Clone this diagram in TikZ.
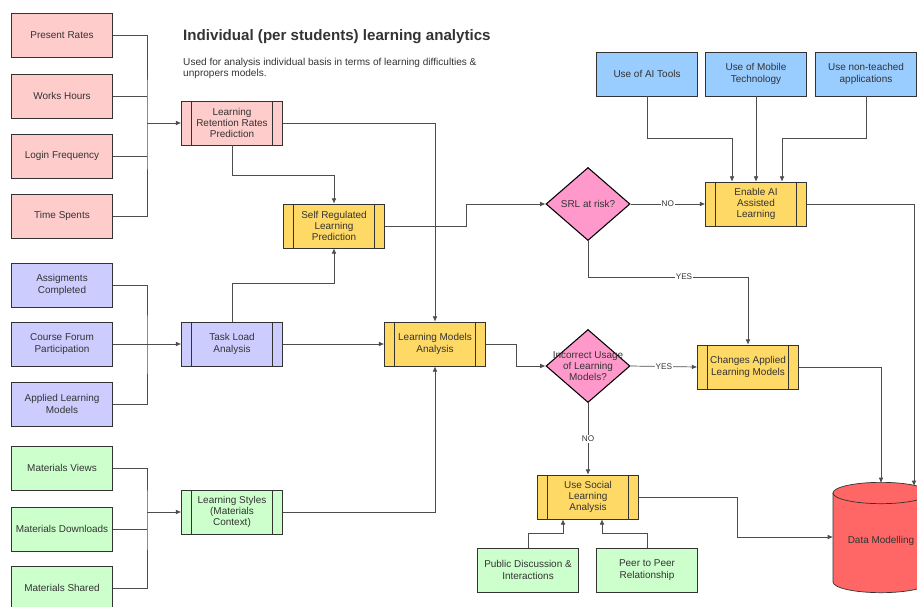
\documentclass[tikz,border=0pt]{standalone}
\usepackage{fontspec}
\setmainfont{Liberation Sans}
\usetikzlibrary{shapes.geometric,arrows.meta}

\definecolor{txt}{HTML}{333333}
\definecolor{boxline}{HTML}{333333}
\definecolor{linegray}{HTML}{4D4D4D}
\definecolor{rosebox}{HTML}{FFCCCC}
\definecolor{lilacbox}{HTML}{CCCCFF}
\definecolor{mintbox}{HTML}{CCFFCC}
\definecolor{skybox}{HTML}{99CCFF}
\definecolor{goldbox}{HTML}{FFD966}
\definecolor{decpink}{HTML}{FF99CC}
\definecolor{dbred}{HTML}{FF6666}

\tikzset{
  box/.style={draw=boxline,line width=0.6pt,minimum width=3.03cm,minimum height=1.32cm,
    align=center,inner sep=1pt,text=txt,font=\fontsize{8.5}{9.6}\selectfont},
  proc/.style={box,path picture={
    \draw[boxline,line width=0.6pt]
      ([xshift=0.3cm]path picture bounding box.north west) -- ([xshift=0.3cm]path picture bounding box.south west)
      ([xshift=-0.3cm]path picture bounding box.north east) -- ([xshift=-0.3cm]path picture bounding box.south east);}},
  decision/.style={diamond,draw=black,line width=0.9pt,fill=decpink,minimum width=2.52cm,
    minimum height=2.19cm,inner sep=0pt},
  dtext/.style={align=center,text=txt,font=\fontsize{8.5}{9.6}\selectfont},
  link/.style={draw=linegray,line width=0.6pt},
  arr/.style={link,-{Latex[length=4.5pt,width=4pt]}},
  lbl/.style={fill=white,inner sep=0.8pt,text=txt,font=\fontsize{7}{8}\selectfont},
}

\begin{document}
\begin{tikzpicture}[x=0.03cm,y=-0.03cm]
\useasboundingbox (0,0) rectangle (917,606);
\node[anchor=west,text=txt,font=\fontsize{12.9}{14}\selectfont\bfseries,inner sep=0pt] (title) at (183,37) {Individual (per students) learning analytics};
\node[anchor=north west,align=left,text=txt,font=\fontsize{8.6}{9.4}\selectfont,inner sep=0pt] (sub) at (183,58) {Used for analysis individual basis in terms of learning difficulties \&\\unpropers models.};

\node[box,fill=rosebox] (pr) at (62,35) {Present Rates};
\node[box,fill=rosebox] (wh) at (62,96) {Works Hours};
\node[box,fill=rosebox] (lf) at (62,156) {Login Frequency};
\node[box,fill=rosebox] (ts) at (62,216) {Time Spents};
\node[box,fill=lilacbox] (ac) at (62,285) {Assigments\\Completed};
\node[box,fill=lilacbox] (cf) at (62,344) {Course Forum\\Participation};
\node[box,fill=lilacbox] (alm) at (62,404) {Applied Learning\\Models};
\node[box,fill=mintbox] (mv) at (62,468) {Materials Views};
\node[box,fill=mintbox] (md) at (62,529) {Materials Downloads};
\node[box,fill=mintbox] (ms) at (62,588) {Materials Shared};

\node[proc,fill=rosebox] (lrrp) at (232,123) {Learning\\Retention Rates\\Prediction};
\node[proc,fill=goldbox] (srlp) at (334,226) {Self Regulated\\Learning\\Prediction};
\node[proc,fill=lilacbox] (tla) at (232,344) {Task Load\\Analysis};
\node[proc,fill=goldbox] (lma) at (435,344) {Learning Models\\Analysis};
\node[proc,fill=mintbox] (lsmc) at (232,512) {Learning Styles\\(Materials\\Context)};

\node[decision,label={[dtext]center:SRL at risk?}] (srl) at (588,204) {};
\node[decision,label={[dtext]center:Incorrect Usage\\of Learning\\Models?}] (icu) at (588,366) {};

\node[box,fill=skybox] (ait) at (647,74) {Use of AI Tools};
\node[box,fill=skybox] (mob) at (756,74) {Use of Mobile\\Technology};
\node[box,fill=skybox] (nta) at (866,74) {Use non-teached\\applications};
\node[proc,fill=goldbox] (eaal) at (756,204) {Enable AI\\Assisted\\Learning};
\node[proc,fill=goldbox] (calm) at (748,367) {Changes Applied\\Learning Models};
\node[proc,fill=goldbox] (usla) at (588,497) {Use Social\\Learning\\Analysis};
\node[box,fill=mintbox] (pdi) at (528,570) {Public Discussion \&\\Interactions};
\node[box,fill=mintbox] (ppr) at (647,570) {Peer to Peer\\Relationship};

\draw[boxline,line width=0.6pt,fill=dbred] (833,493) -- (833,582)
  arc[start angle=180,end angle=360,x radius=1.44cm,y radius=0.32cm] -- (929,493)
  arc[start angle=0,end angle=180,x radius=1.44cm,y radius=0.32cm] -- cycle;
\draw[boxline,line width=0.6pt] (833,493) arc[start angle=180,end angle=360,x radius=1.44cm,y radius=0.32cm];
\node[text=txt,font=\fontsize{8.5}{9.6}\selectfont] (dm) at (881,541) {Data Modelling};
\coordinate (dmtop) at (881,483);
\coordinate (dmrt) at (914,486);
\coordinate (dmlf) at (833,537);

\coordinate (b1) at (147,123);
\coordinate (b2) at (147,344);
\coordinate (b3) at (147,512);
\draw[link] (pr.east) -| (b1) |- (ts.east);
\draw[link] (wh.east) -- (wh.east -| b1);
\draw[link] (lf.east) -- (lf.east -| b1);
\draw[arr] (b1) -- (lrrp.west);
\draw[link] (ac.east) -| (b2) |- (alm.east);
\draw[arr] (cf.east) -- (tla.west);
\draw[link] (mv.east) -| (b3) |- (ms.east);
\draw[link] (md.east) -- (md.east -| b3);
\draw[arr] (b3) -- (lsmc.west);

\draw[arr] (lrrp.south) -- ++(0,30) -| (srlp.north);
\draw[arr] (lrrp.east) -| (lma.north);
\draw[arr] (tla.north) -- ++(0,-38) -| (srlp.south);
\draw[arr] (tla.east) -- (lma.west);
\draw[arr] (lsmc.east) -| (lma.south);
\draw[arr] (srlp.east) -- ++(81,0) |- (srl.west);
\draw[arr] (lma.east) -- ++(30,0) |- (icu.west);

\draw[arr] (srl.east) -- node[lbl] {NO} (eaal.west);
\draw[arr] (srl.south) -- ++(0,36) coordinate (s1) -- node[lbl,pos=0.6] {YES} (s1 -| calm.north) -- (calm.north);
\draw[arr] (icu.east) -- node[lbl] {YES} (calm.west);
\draw[arr] (icu.south) -- node[lbl] {NO} (usla.north);

\draw[arr] (ait.south) -- ++(0,42) -| ([xshift=-0.72cm]eaal.north);
\draw[arr] (mob.south) -- (eaal.north);
\draw[arr] (nta.south) -- ++(0,42) -| ([xshift=0.78cm]eaal.north);

\draw[arr] (eaal.east) -| (dmrt);
\draw[arr] (calm.east) -| (dmtop);
\draw[arr] (usla.east) -- ++(98,0) |- (dmlf);

\draw[arr] (pdi.north) -- ++(0,-14) -| ([xshift=-0.75cm]usla.south);
\draw[arr] (ppr.north) -- ++(0,-14) -| ([xshift=0.42cm]usla.south);
\end{tikzpicture}
\end{document}
